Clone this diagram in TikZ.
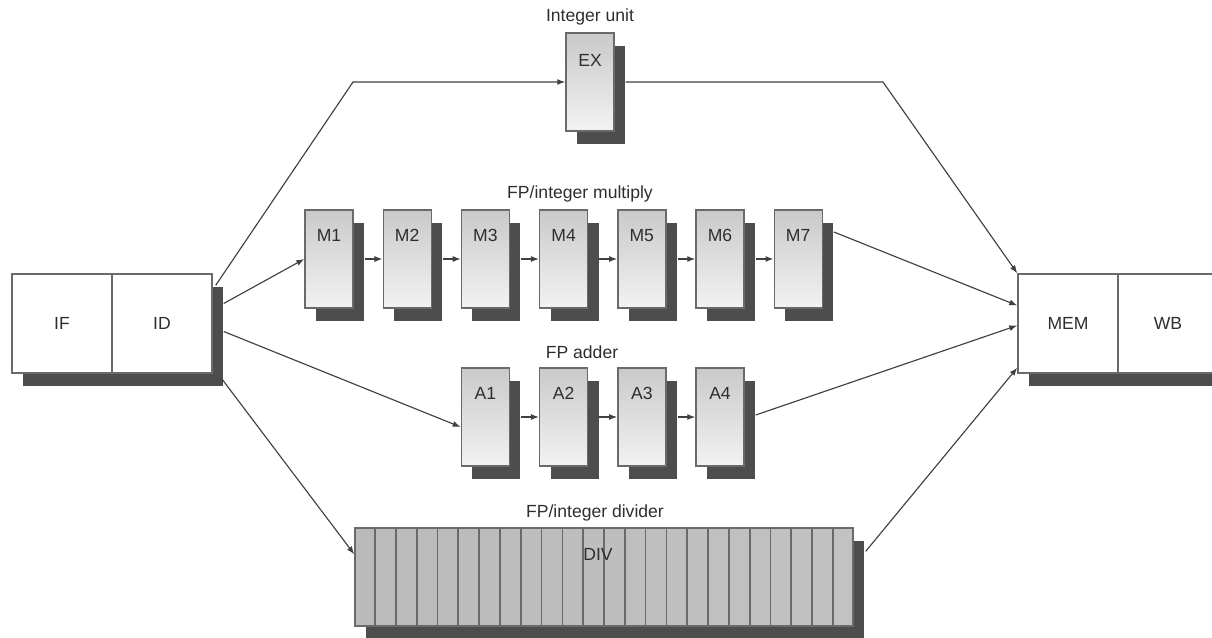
\documentclass[tikz,border=0pt]{standalone}
\usepackage{fontspec}
\setmainfont{Liberation Sans}
\usetikzlibrary{positioning, arrows.meta, shadows, calc}
\definecolor{edge}{HTML}{6a6a6a}
\definecolor{shade}{HTML}{4d4d4d}
\definecolor{wire}{HTML}{404040}
\definecolor{txt}{HTML}{2e2e2e}

\begin{document}
\begin{tikzpicture}[x=0.2mm, y=-0.2mm, font=\fontsize{10}{12}\selectfont, text=txt,
  boxshadow/.style={drop shadow={shadow xshift=2.2mm, shadow yshift=-2.6mm, fill=shade, opacity=1}},
  stage/.style={rectangle, draw=edge, line width=0.8pt, inner sep=0pt, minimum width=9.6mm, minimum height=19.6mm,
                top color=black!21, bottom color=black!5, boxshadow},
  endcell/.style={rectangle, draw=edge, line width=0.8pt, fill=white, inner sep=0pt, minimum width=20mm, minimum height=19.8mm, boxshadow},
  unitname/.style={inner sep=1pt},
  link/.style={draw=wire, line width=0.65pt, -{Latex[length=1.6mm, width=1.2mm]}}]
  \useasboundingbox (0,0) rectangle (1212,637);

  % front and back of the pipe
  \node[endcell] (if) at (62,323.5) {IF};
  \node[endcell] (id) at (162,323.5) {ID};
  \node[endcell] (mem) at (1068,323.5) {MEM};
  \node[endcell] (wb) at (1168,323.5) {WB};

  % integer unit
  \node[unitname] (exname) at (590,17) {Integer unit};
  \node[stage, label={[anchor=center, yshift=-5.6mm]north:EX}] (ex) at (590,82) {};

  % multiplier, 7 stages
  \node[unitname] (mulname) at (580,194) {FP/integer multiply};
  \foreach \i in {1,...,7}
    \node[stage, label={[anchor=center, yshift=-5.2mm]north:M\i}] (m\i) at ({329+(\i-1)*78.2},259) {};
  \foreach \i [count=\j] in {2,...,7}
    \draw[link] ([xshift=2.2mm]m\j.east) -- (m\i.west);

  % adder, 4 stages
  \node[unitname] (addname) at (582,352) {FP adder};
  \foreach \i in {1,...,4}
    \node[stage, label={[anchor=center, yshift=-5.2mm]north:A\i}] (a\i) at ({329+(\i+1)*78.2},417) {};
  \foreach \i [count=\j] in {2,...,4}
    \draw[link] ([xshift=2.2mm]a\j.east) -- (a\i.west);

  % divider, 24 slots
  \node[unitname] (divname) at (595,513) {FP/integer divider};
  \node[rectangle, draw=edge, line width=0.8pt, inner sep=0pt, minimum width=99.6mm, minimum height=19.6mm,
        left color=black!27, middle color=black!9, right color=black!24, boxshadow] (div) at (604,577) {};
  \foreach \k in {1,...,23}
    \draw[edge, line width=1pt] ($(div.north west)!\k/24!(div.north east)$) -- ($(div.south west)!\k/24!(div.south east)$);
  \node (divtxt) at ([xshift=-1.2mm, yshift=-5.4mm]div.north) {DIV};

  % issue from ID
  \draw[link] ([shift={(3,12)}]id.north east) -- (353,82) -- (ex.west);
  \draw[link] ([shift={(11,-20)}]id.east) -- (m1.west);
  \draw[link] ([shift={(11,8)}]id.east) -- ([yshift=-2mm]a1.west);
  \draw[link] ([shift={(9,5)}]id.south east) -- ([yshift=-5.4mm]div.north west);

  % into MEM
  \draw[link] ([xshift=2.2mm]ex.east) -- (883,82) -- (mem.north west);
  \draw[link] ([shift={(11,-27)}]m7.east) -- ([yshift=3.6mm]mem.west);
  \draw[link] ([shift={(11,-2)}]a4.east) -- ([yshift=-0.4mm]mem.west);
  \draw[link] ([shift={(12,24)}]div.north east) -- ([yshift=1.2mm]mem.south west);
\end{tikzpicture}
\end{document}
